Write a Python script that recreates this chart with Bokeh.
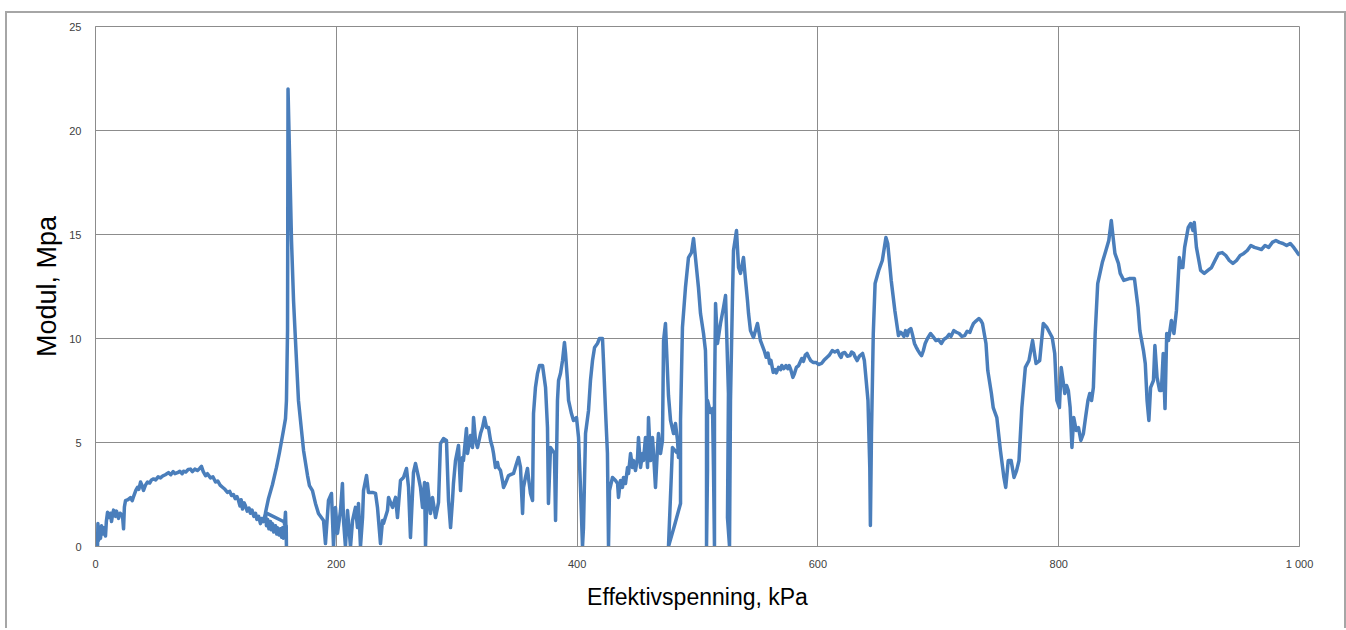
from bokeh.plotting import figure
from bokeh.models import Range1d, FixedTicker, ColumnDataSource
from bokeh.embed import file_html
from bokeh.resources import INLINE

# Effektivspenning (kPa) and Modul (MPa)
eff_kpa = [
    1.7, 2.0, 2.6, 3.3, 4.2, 5.0, 5.8, 7.0, 8.3, 9.0, 10.0, 11.2, 12.5, 13.3, 14.1, 15.0, 16.6,
    17.5, 19.1, 20.5, 22.4, 23.3, 24.0, 24.9, 27.0, 29.1, 30.5, 31.6, 33.5, 34.9, 36.0, 37.4,
    38.5, 39.9, 41.5, 43.2, 45.0, 46.5, 48.2, 50.0, 52.0, 54.0, 56.0, 58.0, 60.6, 62.5, 64.5,
    66.0, 68.1, 70.0, 72.0, 73.1, 75.0, 77.0, 78.9, 80.5, 82.5, 84.7, 86.5, 88.0, 89.5, 91.4,
    93.0, 95.5, 97.5, 99.7, 101.5, 103.5, 105.5, 107.5, 109.6, 111.5, 113.0, 114.6, 116.0,
    117.5, 118.8, 120.0, 121.0, 122.1, 123.5, 124.6, 126.0, 127.5, 128.7, 130.0, 131.5, 132.9,
    134.0, 135.5, 137.0, 138.0, 139.5, 140.5, 141.2,
    142.0, 143.0, 144.0, 145.3, 146.0, 147.0, 148.0, 149.5, 150.5, 151.2, 152.5, 153.7, 154.5,
    155.3, 156.0, 157.0, 157.8, 158.3, 158.6, 158.4, 156.1, 141.2,
    143.7, 147.0, 150.3, 152.8, 156.1, 157.8, 158.6, 159.5, 159.9, 161.1, 162.8, 164.5, 166.1,
    168.6, 171.1, 172.8, 176.1, 177.7, 180.2, 182.7,
    185.2, 189.4, 191.0, 193.5, 196.0, 197.7, 199.3, 201.0, 203.5, 205.1, 206.0, 207.6, 209.3,
    211.8, 213.5, 215.9, 217.6, 218.4, 220.1, 221.8, 222.6, 225.1, 226.7, 230.1, 232.6, 234.2,
    236.7, 238.4, 239.2, 242.5, 243.4, 245.0, 246.7, 249.2, 250.8, 253.3, 255.8, 258.3, 260.0,
    261.6, 264.1, 265.8, 268.3, 269.9, 271.6, 273.3, 274.1, 275.7, 276.6, 278.2, 279.9, 280.7,
    282.4, 284.1, 284.9, 286.5, 289.0, 291.5, 293.2, 294.9, 296.5, 297.3, 299.0, 301.5, 303.2,
    304.8, 305.6, 308.1, 309.0, 311.5, 313.1, 314.0, 315.6, 317.3, 319.8, 321.4, 323.1, 324.8,
    326.4, 328.1, 329.7, 330.6, 332.2, 333.9, 334.7, 336.4, 338.0, 338.9, 340.5, 343.0, 347.2,
    349.7, 351.3, 353.0, 354.7, 355.5, 357.1, 358.8, 359.6, 361.3, 363.0, 363.8, 365.4, 367.1,
    368.8, 371.3, 373.8, 375.4, 376.2, 377.9, 379.6, 381.2, 382.1, 383.7, 384.6, 386.2, 387.9,
    389.5, 390.4, 392.0, 392.9, 395.3, 397.0, 399.5, 401.2, 402.8, 404.5, 405.3, 407.0, 409.5,
    411.1, 412.8, 414.5, 416.9, 418.6, 421.1, 421.9, 423.6, 425.2, 426.1,
    426.9, 429.4, 431.9, 433.6, 434.4, 436.0, 437.7, 438.5, 440.2, 441.9, 442.7, 444.4, 446.0,
    446.8, 448.5, 450.2, 451.0, 452.7, 454.3, 455.1, 456.8, 458.5, 459.3, 461.0, 462.6, 463.5,
    465.1, 466.8, 467.6, 469.3, 470.9, 471.8, 473.4,
    475.9, 477.6, 480.1, 481.7, 483.4, 484.2, 485.9, 482.6, 479.2, 475.9, 480.9, 485.9, 485.9,
    487.5, 490.0, 492.5, 495.0, 496.7, 498.3, 500.8, 502.5, 505.0, 506.6, 507.5, 507.5, 508.3,
    508.3, 510.8, 512.5, 513.3, 514.1, 514.1, 515.0, 516.6, 519.1, 521.6, 523.3, 524.9, 525.7,
    524.9, 526.6, 527.4, 529.1, 529.9, 532.4, 534.1, 535.7, 538.2, 539.9, 541.5, 542.4, 544.0,
    546.5, 549.8, 552.3,
    555.4, 557.0, 558.5, 559.9, 561.0, 562.9, 564.5, 565.5, 567.3, 569.0, 570.0, 571.8, 573.5,
    575.0, 576.2, 577.5, 579.2, 580.5, 582.1, 584.0, 586.6, 588.0, 589.5, 591.0, 592.5, 594.0,
    596.0, 598.5, 600.5, 603.0, 605.0, 607.4, 609.5, 611.9, 614.0, 616.4, 618.0, 619.3, 620.5,
    622.3, 624.5, 626.7, 628.0, 629.7, 631.0, 632.6, 634.5, 637.1, 638.6, 641.6, 643.1, 643.6,
    644.5, 646.0, 647.5, 650.5, 653.5, 656.5, 658.0, 660.9, 663.9,
    666.9, 668.5, 669.9, 671.5, 672.8, 674.3, 675.5, 677.2, 678.5, 680.2, 681.5, 683.2, 684.5,
    686.1, 687.5, 689.1, 691.0, 693.6, 695.5, 698.1, 700.0, 702.5, 704.5, 707.0, 709.0, 710.5,
    712.9, 715.0, 717.4, 719.5, 721.9, 724.0, 726.2, 727.5, 729.2, 731.5, 733.7, 735.5, 736.7,
    739.6, 741.1, 744.1, 745.6, 748.6, 751.6, 754.5, 756.0, 758.1, 760.5,
    762.9, 765.0, 767.0, 769.4, 772.3, 775.3, 778.3, 781.2, 784.2, 787.2, 790.2, 794.6, 796.7,
    798.5, 800.6, 802.1, 803.6, 805.1, 806.6, 808.0, 809.5, 811.0, 812.5, 814.5, 816.4, 818.4,
    820.5, 822.3, 824.3, 825.8, 827.3, 828.8, 830.3, 832.4, 836.2, 839.2, 841.6, 843.7, 845.2,
    846.7, 849.6, 851.1, 854.1, 858.6, 862.9, 865.9, 867.4, 870.4, 871.9, 873.4, 874.9, 876.3,
    878.7, 879.9, 881.7, 883.8, 885.3, 886.8, 888.3, 889.7, 891.2, 893.6, 895.7, 897.8, 900.2,
    901.7, 903.1, 904.6, 907.6, 909.6, 911.5, 912.6, 914.4, 916.4, 917.9, 920.9, 923.9, 926.9,
    929.8, 932.8, 935.8, 938.8, 941.7, 944.7, 947.7, 950.7, 953.7, 956.6, 959.6, 962.6, 965.5,
    968.4, 971.4, 974.4, 977.4, 980.4, 983.3, 986.3, 989.3, 992.3, 995.2, 998.2, 1000.0,
]

modul_mpa = [
    0.0, 1.1, 0.3, 0.9, 0.4, 1.0, 0.6, 0.9, 0.5, 1.2, 1.65, 1.4, 1.6, 1.2, 1.5, 1.75, 1.45,
    1.7, 1.35, 1.6, 1.5, 0.85, 1.9, 2.2, 2.25, 2.35, 2.2, 2.4, 2.7, 2.85, 2.75, 3.1,
    2.95, 2.7, 2.95, 3.1, 3.05, 3.2, 3.25, 3.2, 3.35, 3.3, 3.4, 3.45, 3.55, 3.45, 3.6,
    3.5, 3.55, 3.62, 3.5, 3.62, 3.58, 3.7, 3.72, 3.6, 3.72, 3.65, 3.75, 3.85, 3.6, 3.4,
    3.5, 3.3, 3.35, 3.1, 3.15, 2.95, 2.85, 2.75, 2.6, 2.65, 2.45, 2.5, 2.3,
    2.4, 2.2, 1.95, 2.25, 1.8, 2.1, 1.95, 1.7, 1.85, 1.6, 1.75, 1.45, 1.6,
    1.3, 1.45, 1.1, 1.35, 1.2, 1.45, 1.6,
    1.0, 1.3, 0.85, 1.2, 0.8, 1.1, 0.7, 1.0, 0.6, 0.9, 0.55, 0.85, 0.45,
    0.9, 0.4, 1.0, 1.65, 0.7, 0.0, 1.0, 1.2, 1.63,
    2.31, 2.98, 3.80, 4.52, 5.58, 6.15, 7.02, 10.38, 22.0, 19.0, 14.7, 11.8, 9.9,
    7.0, 5.58, 4.62, 3.41, 2.93, 2.69, 2.07,
    1.59, 1.25, 0.14, 2.21, 2.55, 0.0, 1.88, 0.63, 1.73, 3.03, 1.25, 0.0, 1.73,
    0.0, 1.25, 1.88, 0.91, 2.07, 0.0, 1.39, 2.69, 3.41, 2.60, 2.60, 2.55, 1.88,
    0.14, 1.25, 1.11, 1.73, 2.36, 2.12, 1.88, 2.36, 1.39, 3.17, 3.32, 3.75, 2.84,
    0.43, 3.56, 3.99, 3.32, 2.84, 1.88, 3.08, 0.0, 3.03, 2.55, 1.59, 2.36, 2.07,
    1.39, 1.88, 2.12, 4.95, 5.19, 5.10, 2.21, 0.91, 2.21, 3.03, 4.13, 4.86, 2.69,
    4.28, 4.13, 5.67, 4.47, 5.34, 4.76, 6.20, 5.10, 4.76, 5.43, 5.72, 6.20, 5.72,
    5.72, 5.10, 4.76, 4.47, 3.80, 4.04, 3.80, 3.65, 3.17, 2.84, 3.03, 3.41, 3.51,
    3.99, 4.28, 3.80, 1.59, 2.84, 3.32, 3.75, 3.32, 2.55, 2.21, 6.39, 7.64, 8.32,
    8.70, 8.70, 7.64, 5.72, 2.07, 4.76, 4.62, 4.47, 1.25, 7.02, 7.98, 8.32, 8.94,
    9.81, 9.28, 7.98, 7.02, 6.39, 6.06, 6.20, 5.24, 2.84, 0.0, 0.91, 5.43, 6.54,
    7.98, 8.94, 9.57, 9.76, 10.0, 10.0, 8.94, 6.54, 4.47, 0.0,
    2.69, 3.32, 3.17, 3.03, 2.36, 3.17, 2.84, 3.32, 3.03, 3.80, 3.51, 4.47, 3.80,
    4.13, 3.65, 4.28, 5.24, 3.80, 4.47, 4.13, 5.24, 3.80, 6.20, 4.13, 5.24, 4.47,
    2.84, 4.76, 5.43, 4.47, 5.10, 9.90, 10.72,
    7.26, 6.06, 5.43, 5.91, 5.10, 4.28, 4.47, 4.52, 4.76, 0.0, 1.01, 2.07, 6.06,
    10.53, 12.45, 13.89, 14.13, 14.81, 13.89, 12.45, 11.20, 10.24, 9.42, 7.02, 0.0, 3.65,
    7.02, 6.44, 6.63, 3.65, 0.0, 7.02, 11.68, 9.76, 10.72, 11.49, 12.07, 8.94, 7.36,
    1.39, 0.0, 7.02, 12.16, 14.23, 15.19, 13.41, 13.13, 13.89, 12.79, 11.83, 11.20, 10.38,
    10.05, 10.72, 9.90,
    9.42, 9.10, 9.30, 8.80, 8.95, 8.37, 8.50, 8.35, 8.61, 8.50, 8.70, 8.55, 8.70,
    8.55, 8.70, 8.50, 8.13, 8.30, 8.61, 8.70, 9.04, 8.90, 9.20, 9.28, 9.10, 8.94,
    8.85, 8.85, 8.75, 8.80, 8.95, 9.09, 9.20, 9.42, 9.35, 9.42, 9.20, 9.09, 9.30,
    9.33, 9.15, 9.18, 9.35, 9.28, 9.10, 8.94, 9.15, 9.28, 8.94, 7.02, 3.80, 1.01,
    5.43, 10.24, 12.64, 13.27, 13.75, 14.86, 14.57, 12.79, 11.35,
    10.14, 10.30, 10.24, 10.10, 10.38, 10.14, 10.40, 10.48, 10.20, 9.76, 9.60, 9.42, 9.30,
    9.18, 9.40, 9.76, 10.00, 10.24, 10.10, 9.90, 9.95, 9.76, 9.95, 10.05, 10.20, 10.10,
    10.38, 10.30, 10.24, 10.10, 10.14, 10.35, 10.29, 10.50, 10.72, 10.85, 10.96, 10.85, 10.72,
    9.76, 8.46, 7.36, 6.68, 6.20, 4.62, 3.32, 2.84, 4.13, 4.13,
    3.32, 3.65, 4.13, 6.68, 8.61, 8.94, 9.90, 8.80, 8.94, 10.72, 10.53, 10.05, 9.28,
    7.02, 6.68, 8.61, 7.98, 7.36, 7.74, 7.50, 6.68, 4.76, 6.20, 5.58, 5.72, 5.10,
    5.43, 6.20, 7.02, 7.36, 7.02, 7.64, 10.24, 12.64, 13.65, 14.23, 14.71, 15.67, 14.86,
    14.09, 13.61, 13.13, 12.79, 12.88, 12.88, 11.49, 10.38, 9.42, 8.80, 7.02, 6.06, 7.64,
    7.98, 9.66, 8.13, 7.50, 7.50, 9.28, 6.63, 10.24, 9.90, 10.87, 10.24, 11.35, 13.89,
    13.41, 13.41, 14.38, 15.34, 15.53, 15.19, 15.58, 14.38, 13.75, 13.27, 13.13, 13.27, 13.41,
    13.75, 14.09, 14.13, 13.99, 13.75, 13.61, 13.75, 13.99, 14.09, 14.23, 14.47, 14.38, 14.33,
    14.28, 14.47, 14.38, 14.62, 14.71, 14.62, 14.57, 14.47, 14.57, 14.38, 14.13, 13.99,
]

x_ticks = [0, 200, 400, 600, 800, 1000]
x_tick_labels = {0: "0", 200: "200", 400: "400", 600: "600", 800: "800", 1000: "1 000"}
y_ticks = [0, 5, 10, 15, 20, 25]

src = ColumnDataSource(data=dict(x=eff_kpa, y=modul_mpa))

p = figure(
    width=1341, height=617,
    x_range=Range1d(0, 1000), y_range=Range1d(0, 25),
    output_backend="svg", toolbar_location=None,
    min_border_left=88, min_border_right=49, min_border_top=13, min_border_bottom=84,
)
p.styles = {
    "margin-left": "5px", "margin-top": "11px",
    "border-left": "2px solid #a6a6a6", "border-top": "2px solid #a6a6a6",
    "border-right": "2px solid #a6a6a6",
}

p.line("x", "y", source=src, line_color="#4a7ebb", line_width=3.5, line_join="round")

grid_col = "#8c8c8c"
p.outline_line_color = grid_col
p.outline_line_width = 1
p.xgrid.grid_line_color = grid_col
p.ygrid.grid_line_color = grid_col
p.xaxis.ticker = FixedTicker(ticks=x_ticks)
p.yaxis.ticker = FixedTicker(ticks=y_ticks)
p.xaxis.major_label_overrides = x_tick_labels

for ax in (p.xaxis, p.yaxis):
    ax.axis_line_color = grid_col
    ax.major_tick_line_color = None
    ax.minor_tick_line_color = None
    ax.major_tick_in = 0
    ax.major_tick_out = 0
    ax.major_label_text_font = "Liberation Sans"
    ax.major_label_text_font_size = "11px"
    ax.major_label_text_color = "#404040"
    ax.axis_label_text_font = "Liberation Sans"
    ax.axis_label_text_font_style = "normal"
    ax.axis_label_text_color = "#000000"

p.xaxis.axis_label = "Effektivspenning, kPa"
p.xaxis.axis_label_text_font_size = "23px"
p.xaxis.major_label_standoff = 11
p.xaxis.axis_label_standoff = 11

p.yaxis.axis_label = "Modul, Mpa"
p.yaxis.axis_label_text_font_size = "27px"
p.yaxis.major_label_standoff = 14
p.yaxis.axis_label_standoff = 4

open("out.html", "w").write(file_html(p, INLINE))
